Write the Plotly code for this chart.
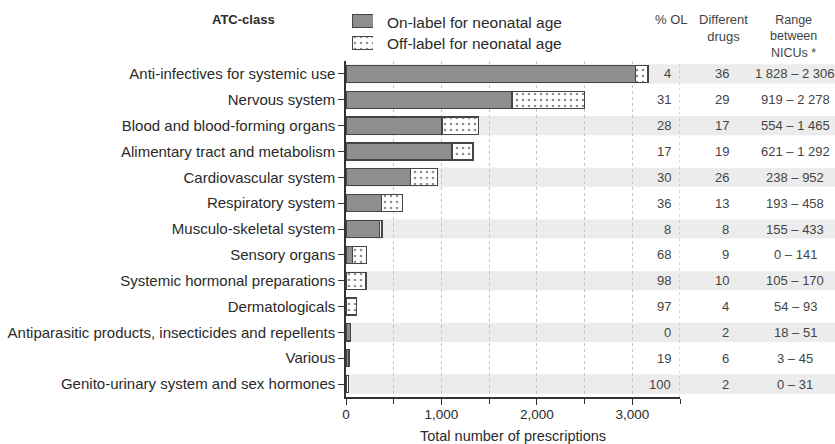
import plotly.graph_objects as go

categories = [
    "Anti-infectives for systemic use",
    "Nervous system",
    "Blood and blood-forming organs",
    "Alimentary tract and metabolism",
    "Cardiovascular system",
    "Respiratory system",
    "Musculo-skeletal system",
    "Sensory organs",
    "Systemic hormonal preparations",
    "Dermatologicals",
    "Antiparasitic products, insecticides and repellents",
    "Various",
    "Genito-urinary system and sex hormones",
]
on_label = [3035, 1740, 1005, 1110, 676, 376, 350, 68, 4, 3, 49, 30, 0]
off_label = [130, 763, 385, 221, 283, 216, 28, 145, 206, 105, 0, 7, 24]
pct_ol = ["4", "31", "28", "17", "30", "36", "8", "68", "98", "97", "0", "19", "100"]
diff_drugs = ["36", "29", "17", "19", "26", "13", "8", "9", "10", "4", "2", "6", "2"]
range_nicus = ["1 828 – 2 306", "919 – 2 278", "554 – 1 465", "621 – 1 292", "238 – 952",
               "193 – 458", "155 – 433", "0 – 141", "105 – 170", "54 – 93", "18 – 51", "3 – 45", "0 – 31"]
x_ticks = [0, 1000, 2000, 3000]
x_ticktext = ["0", "1,000", "2,000", "3,000"]
legend_names = ["On-label for neonatal age", "Off-label for neonatal age"]

FONT = "Liberation Sans, Arial, sans-serif"
TXT = "#2a2a2a"
TBL = "#444444"
ON_COL = "#8e8e91"
EDGE = "#454545"

W, H = 835, 444
ML, MR, MT, MB = 346, 155, 5, 47
PW = W - ML - MR
PH = H - MT - MB


def px(pix):
    return (pix - ML) / PW


def py(pix):
    return (H - MB - pix) / PH


dot_pattern = dict(shape=".", fgcolor="#222222", bgcolor="white", size=6, solidity=0.15)

fig = go.Figure()
fig.add_trace(go.Bar(
    y=categories, x=on_label, orientation="h", name=legend_names[0], showlegend=False,
    marker=dict(color=ON_COL, line=dict(color=EDGE, width=1.2)),
))
fig.add_trace(go.Bar(
    y=categories, x=off_label, orientation="h", name=legend_names[1], showlegend=False,
    marker=dict(color="white", line=dict(color=EDGE, width=1.2), pattern=dot_pattern),
))
# legend swatches drawn on a small hidden axis
fig.add_trace(go.Bar(
    y=[0], x=[1], orientation="h", width=0.55, xaxis="x2", yaxis="y2", showlegend=False,
    marker=dict(color=ON_COL, line=dict(color=EDGE, width=1)), hoverinfo="skip",
))
fig.add_trace(go.Bar(
    y=[1], x=[1], orientation="h", width=0.55, xaxis="x2", yaxis="y2", showlegend=False,
    marker=dict(color="white", line=dict(color=EDGE, width=1), pattern=dot_pattern), hoverinfo="skip",
))

shapes = []
for i, c in enumerate(categories):
    if i % 2 == 0:
        shapes.append(dict(type="rect", xref="paper", yref="y", x0=0, x1=px(W + 2),
                           y0=i - 0.37, y1=i + 0.37, fillcolor="#ececec",
                           line=dict(width=0), layer="below"))
shapes.append(dict(type="line", xref="x", yref="y domain", x0=3500, x1=3500, y0=0, y1=1,
                   line=dict(color="#b0b0b0", width=1, dash="dot"), layer="below"))

annotations = []
for i, c in enumerate(categories):
    annotations.append(dict(x=px(673), y=c, xref="paper", yref="y", text=pct_ol[i],
                            showarrow=False, xanchor="right", font=dict(size=13, color=TBL, family=FONT)))
    annotations.append(dict(x=px(731), y=c, xref="paper", yref="y", text=diff_drugs[i],
                            showarrow=False, xanchor="right", font=dict(size=13, color=TBL, family=FONT)))
    annotations.append(dict(x=px(795), y=c, xref="paper", yref="y", text=range_nicus[i],
                            showarrow=False, xanchor="center", font=dict(size=13, color=TBL, family=FONT)))

annotations += [
    dict(x=px(243), y=py(20), xref="paper", yref="paper", text="<b>ATC-class</b>", showarrow=False,
         xanchor="center", yanchor="middle", font=dict(size=13, color=TXT, family=FONT)),
    dict(x=px(671), y=py(20), xref="paper", yref="paper", text="% OL", showarrow=False,
         xanchor="center", yanchor="middle", font=dict(size=13, color=TBL, family=FONT)),
    dict(x=px(723), y=py(27.5), xref="paper", yref="paper", text="Different<br>drugs", showarrow=False,
         xanchor="center", yanchor="middle", font=dict(size=13, color=TBL, family=FONT)),
    dict(x=px(793), y=py(36), xref="paper", yref="paper", text="Range<br>between<br>NICUs *", showarrow=False,
         xanchor="center", yanchor="middle", font=dict(size=12.5, color=TBL, family=FONT)),
    dict(x=px(385), y=py(22), xref="paper", yref="paper", text=legend_names[0], showarrow=False,
         xanchor="left", yanchor="middle", font=dict(size=15.5, color=TXT, family=FONT)),
    dict(x=px(385), y=py(43), xref="paper", yref="paper", text=legend_names[1], showarrow=False,
         xanchor="left", yanchor="middle", font=dict(size=15.5, color=TXT, family=FONT)),
]

fig.update_layout(
    width=W, height=H,
    margin=dict(l=ML, r=MR, t=MT, b=MB, autoexpand=False),
    barmode="stack", bargap=0.34,
    plot_bgcolor="white", paper_bgcolor="white",
    font=dict(family=FONT, color=TXT, size=13),
    shapes=shapes, annotations=annotations,
    showlegend=False,
    xaxis=dict(range=[0, 3500], tickvals=x_ticks, ticktext=x_ticktext, automargin=False,
               showline=True, linecolor="#333333", linewidth=1.5,
               ticks="outside", ticklen=6, tickcolor="#333333", tickwidth=1.2,
               ticklabelstandoff=-2,
               showgrid=True, gridcolor="#c4c4c4", griddash="dot", gridwidth=1,
               minor=dict(dtick=500, tick0=0, ticks="outside", ticklen=5, tickcolor="#333333",
                          showgrid=True, gridcolor="#c4c4c4", griddash="dot"),
               zeroline=False, tickfont=dict(size=13.5, color=TXT),
               title=dict(text="Total number of prescriptions", font=dict(size=14.5, color=TXT), standoff=12)),
    yaxis=dict(domain=[0, py(61)], autorange="reversed", showline=True, linecolor="#333333", linewidth=1.5,
               ticks="outside", ticklen=6, tickcolor="#333333", tickwidth=1.2, automargin=False,
               tickfont=dict(size=15, color=TXT), showgrid=False, zeroline=False),
    xaxis2=dict(domain=[px(352), px(373)], range=[0, 1], visible=False, anchor="y2", fixedrange=True),
    yaxis2=dict(domain=[py(54), py(10)], range=[1.5, -0.5], visible=False, anchor="x2", fixedrange=True),
)

fig.write_html(
    "out.html",
    config={"displayModeBar": False},
    post_script="document.body.style.margin='0px';document.body.style.padding='0px';"
                "document.documentElement.style.overflow='hidden';",
)
